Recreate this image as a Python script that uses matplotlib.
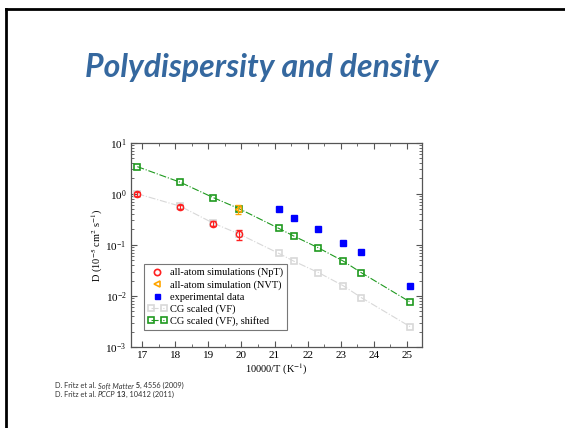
import matplotlib
matplotlib.use("Agg")
import matplotlib.pyplot as plt
from matplotlib.lines import Line2D
from matplotlib.legend_handler import HandlerLine2D
from matplotlib.ticker import LogLocator, MultipleLocator, NullFormatter

# data
x_sim = [16.85, 18.15, 19.15, 19.93]
d_npt = [1.0, 0.55, 0.26, 0.16]
d_npt_err = [0.08, 0.05, 0.03, 0.035]

x_nvt = [19.9]
d_nvt = [0.5]
d_nvt_err = [0.09]

x_exp = [21.13, 21.58, 22.33, 23.08, 23.62, 25.1]
d_exp = [0.50, 0.34, 0.204, 0.11, 0.071, 0.0158]

x_cg = [16.85, 18.15, 19.15, 19.93, 21.13, 21.58, 22.33, 23.08, 23.62, 25.1]
d_cg = [1.0, 0.57, 0.265, 0.163, 0.068, 0.048, 0.0286, 0.0158, 0.0093, 0.0025]
d_cg_shift = [3.4, 1.68, 0.84, 0.51, 0.21, 0.149, 0.087, 0.048, 0.0286, 0.0076]

labels = ["all-atom simulations (NpT)", "all-atom simulation (NVT)", "experimental data",
          "CG scaled (VF)", "CG scaled (VF), shifted"]

green = "#1f9a1f"
grey = "#d8d8d8"
red = "#ff2020"
orange = "#ffa500"
blue = "#0000ff"

plt.rcParams["mathtext.fontset"] = "stix"

fig = plt.figure(figsize=(5.65, 4.28), dpi=100)
fig.patch.set_facecolor("white")

# slide frame (top and left edges)
fig.add_artist(Line2D([6 / 565, 1], [1 - 9 / 428, 1 - 9 / 428], color="black", lw=2, transform=fig.transFigure))
fig.add_artist(Line2D([6 / 565, 6 / 565], [0, 1 - 9 / 428], color="black", lw=2, transform=fig.transFigure))

fig.text(0.464, 1 - 67 / 428, "Polydispersity and density", ha="center", va="center",
         fontsize=23, fontweight="bold", fontstyle="italic", family="Lato", color="#35689f")

ax = fig.add_axes([0.2313, 0.1893, 0.515, 0.4773])

l_cg, = ax.plot(x_cg, d_cg, ls="-.", lw=0.8, color=grey, marker="s", ms=4.5, mfc="none", mec=grey, mew=1.2)
l_sh, = ax.plot(x_cg, d_cg_shift, ls="-.", lw=0.8, color=green, marker="s", ms=4.5, mfc="none", mec=green, mew=1.2)
ax.errorbar(x_sim, d_npt, yerr=d_npt_err, fmt="o", ms=4.5, mfc="none", mec=red, mew=1.0,
            ecolor=red, elinewidth=0.8, capsize=2.5)
ax.errorbar(x_nvt, d_nvt, yerr=d_nvt_err, fmt="<", ms=4.5, mfc="none", mec=orange, mew=1.0,
            ecolor=orange, elinewidth=0.8, capsize=2.5)
l_exp, = ax.plot(x_exp, d_exp, ls="none", marker="s", ms=4, color=blue)

ax.set_yscale("log")
ax.set_xlim(16.65, 25.45)
ax.set_ylim(1e-3, 1e1)
ax.xaxis.set_major_locator(MultipleLocator(1))
ax.xaxis.set_minor_locator(MultipleLocator(0.5))
ax.yaxis.set_major_locator(LogLocator(base=10, numticks=10))
ax.yaxis.set_minor_locator(LogLocator(base=10, subs=range(2, 10), numticks=10))
ax.yaxis.set_minor_formatter(NullFormatter())

ax.tick_params(which="both", direction="in", top=True, right=True, colors="#555555",
               labelcolor="black", labelsize=8, labelfontfamily="Liberation Serif")
ax.tick_params(which="major", length=4.5, width=0.8, pad=3)
ax.tick_params(which="minor", length=2.5, width=0.6)
for s in ax.spines.values():
    s.set_color("#555555")
    s.set_linewidth(0.9)

ax.set_xlabel(r"10000/T (K$^{-1}$)", fontsize=7.5, family="Liberation Serif", labelpad=1)
ax.set_ylabel(r"D (10$^{-5}$ cm$^{2}$ s$^{-1}$)", fontsize=7.5, family="Liberation Serif", labelpad=0)

# legend proxies
h_npt = Line2D([], [], ls="none", marker="o", ms=5, mfc="none", mec=red, mew=1.2)
h_nvt = Line2D([], [], ls="none", marker="<", ms=5, mfc="none", mec=orange, mew=1.2)
handles = [h_npt, h_nvt, l_exp, l_cg, l_sh]
hmap = {h: HandlerLine2D(numpoints=1) for h in (h_npt, h_nvt, l_exp)}
leg = ax.legend(handles, labels, loc="lower left", bbox_to_anchor=(0.047, 0.083), borderaxespad=0,
                frameon=True, fancybox=False, edgecolor="#555555", handlelength=1.8, handletextpad=0.3,
                labelspacing=0.25, borderpad=0.35, numpoints=2, handler_map=hmap, markerscale=0.9,
                prop={"family": "Liberation Serif", "size": 7.5})
leg.get_frame().set_linewidth(0.8)

# references below the chart, built piece by piece for the italic / bold parts
parts1 = [("D. Fritz et al. ", "normal", "normal"), ("Soft Matter", "italic", "normal"),
          (" 5", "normal", "bold"), (", 4556 (2009)", "normal", "normal")]
parts2 = [("D. Fritz et al. ", "normal", "normal"), ("PCCP", "italic", "normal"),
          (" 13", "normal", "bold"), (", 10412 (2011)", "normal", "normal")]

for y, parts in [(1 - 389 / 428, parts1), (1 - 398 / 428, parts2)]:
    prev = None
    for txt, st, wt in parts:
        kw = dict(fontsize=5.3, family="Lato", color="#333333", fontstyle=st, fontweight=wt, va="bottom")
        if prev is None:
            prev = fig.text(55 / 565, y, txt, **kw)
        else:
            prev = ax.annotate(txt, xy=(1, 0), xycoords=prev, annotation_clip=False, **kw)

fig.savefig("out.png", dpi=100)
